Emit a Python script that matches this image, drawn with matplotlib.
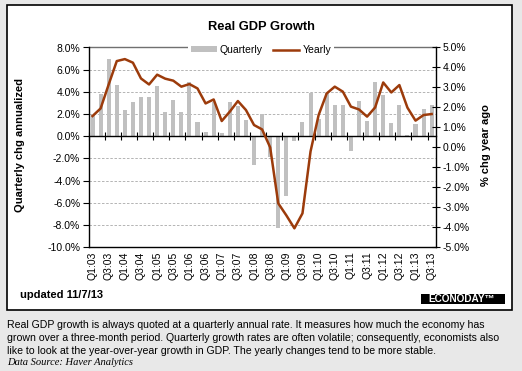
import numpy as np
import matplotlib
matplotlib.use("Agg")
import matplotlib.pyplot as plt
from matplotlib.patches import Rectangle
from matplotlib.ticker import FuncFormatter, FixedLocator

plt.rcParams['font.family'] = ['Liberation Sans', 'DejaVu Sans']
plt.rcParams['axes.unicode_minus'] = False

quarters = []
for yr in range(3, 14):
    for q in range(1, 5):
        quarters.append(f"Q{q}:{yr:02d}")
quarters = quarters[:43]

quarterly = [1.9, 3.8, 7.0, 4.6, 2.4, 3.1, 3.5, 3.5, 4.5, 2.2, 3.3, 2.2,
             4.9, 1.3, 0.4, 3.1, 0.3, 3.1, 2.7, 1.5, -2.6, 2.0, -1.9, -8.3,
             -5.4, -0.4, 1.3, 3.9, 1.6, 3.9, 2.8, 2.8, -1.3, 3.2, 1.4, 4.9,
             3.7, 1.2, 2.8, 0.1, 1.1, 2.5, 2.8]
yearly = [1.57, 1.95, 3.15, 4.32, 4.42, 4.24, 3.45, 3.15, 3.64, 3.44, 3.34,
          3.04, 3.17, 2.95, 2.2, 2.4, 1.32, 1.79, 2.32, 1.87, 1.12, 0.9,
          0.0, -2.8, -3.4, -4.05, -3.3, -0.2, 1.62, 2.7, 3.04, 2.79, 2.04,
          1.9, 1.54, 2.0, 3.25, 2.75, 3.12, 1.99, 1.34, 1.62, 1.67]

title = "Real GDP Growth"
left_label = "Quarterly chg annualized"
right_label = "% chg year ago"
updated = "updated 11/7/13"
para = ["Real GDP growth is always quoted at a quarterly annual rate. It measures how much the economy has",
        "grown over a three-month period. Quarterly growth rates are often volatile; consequently, economists also",
        "like to look at the year-over-year growth in GDP. The yearly changes tend to be more stable."]
source = "Data Source: Haver Analytics"

W, H = 522, 371
BG = '#e8e8e8'
BAR = '#c0c0c0'
LINE = '#9c3b0b'

fig = plt.figure(figsize=(W / 100, H / 100), dpi=100, facecolor=BG)

def fx(px):
    return px / W

def fy(py):
    return 1 - py / H

# white chart panel
panel = Rectangle((fx(6.7), fy(310)), fx(512) - fx(6.7), fy(4.7) - fy(310),
                  transform=fig.transFigure, facecolor='white', edgecolor='black',
                  linewidth=1.2, zorder=-10)
fig.patches.append(panel)

ax = fig.add_axes([fx(88.5), fy(247.3), fx(435.7) - fx(88.5), fy(47.5) - fy(247.3)])
ax.set_zorder(1)
ax.set_facecolor('none')
x = np.arange(len(quarters))
ax.bar(x, quarterly, width=0.5, color=BAR, zorder=2, label='Quarterly')
ax.set_xlim(-0.5, len(quarters) - 0.5)
ax.set_ylim(-10, 8)
ax.set_yticks(np.arange(-10, 8.1, 2))
ax.yaxis.set_major_formatter(FuncFormatter(lambda v, p: f"{v:.1f}%"))
ax.tick_params(axis='y', direction='out', length=4, width=0.8, labelsize=7.5, pad=2)
ax.set_axisbelow(True)
for v in [-8, -6, -4, -2, 2, 4, 6]:
    ax.axhline(v, color='#a8a8a8', lw=0.6, ls=(0, (3, 2)), zorder=1)
ax.axhline(8, color='#707070', lw=1.0, zorder=1, clip_on=False)

# x axis: major ticks on zero line (top spine moved), labels at bottom
ax.spines['top'].set_position(('data', 0))
ax.spines['top'].set_color('black')
ax.spines['top'].set_linewidth(1.0)
ax.spines['top'].set_zorder(3)
ax.xaxis.set_major_locator(FixedLocator(np.arange(-0.5, len(quarters) - 1, 2)))
ax.xaxis.set_minor_locator(FixedLocator(x[::2]))
ax.xaxis.set_minor_formatter(FuncFormatter(lambda v, p: quarters[int(round(v))]))
ax.tick_params(axis='x', which='major', top=True, bottom=False, labeltop=False,
               labelbottom=False, direction='inout', length=6, width=0.8)
ax.tick_params(axis='x', which='minor', top=False, bottom=True, length=0,
               labelbottom=True, labelsize=7.5, labelrotation=90, pad=3)
for s in ['left', 'bottom']:
    ax.spines[s].set_color('black')
    ax.spines[s].set_linewidth(1.0)
ax.spines['right'].set_visible(False)
ax.set_ylabel(left_label, fontsize=8, fontweight='bold')
ax.yaxis.set_label_coords(fx(25), fy(145), transform=fig.transFigure)

ax2 = ax.twinx()
ax2.set_zorder(2)
ax2.set_facecolor('none')
ax2.plot(x, yearly, color=LINE, lw=1.8, zorder=3, label='Yearly')
ax2.set_ylim(-5, 5)
ax2.set_yticks(np.arange(-5, 5.1, 1))
ax2.yaxis.set_major_formatter(FuncFormatter(lambda v, p: f"{v:.1f}%"))
ax2.tick_params(axis='y', direction='inout', length=6, width=0.8, labelsize=7.5, pad=2)
for s in ['left', 'top', 'bottom']:
    ax2.spines[s].set_visible(False)
ax2.spines['right'].set_color('black')
ax2.spines['right'].set_linewidth(1.0)
ax2.set_ylabel(right_label, fontsize=8, fontweight='bold')
ax2.yaxis.set_label_coords(fx(481), fy(145), transform=fig.transFigure)

h1, l1 = ax.get_legend_handles_labels()
h2, l2 = ax2.get_legend_handles_labels()
leg = ax2.legend(h1 + h2, l1 + l2, loc='center', bbox_to_anchor=(fx(261), fy(50)),
                 bbox_transform=fig.transFigure, ncol=2, fontsize=7.5, frameon=True,
                 facecolor='white', edgecolor='none', framealpha=1, fancybox=False,
                 handlelength=2.5, handleheight=0.5, handletextpad=0.3,
                 columnspacing=1.0, borderpad=0.25, borderaxespad=0)
leg.set_zorder(10)

fig.text(fx(261), fy(26.5), title, ha='center', va='center', fontsize=9.3,
         fontweight='bold')
fig.text(fx(20.5), fy(294.5), updated, ha='left', va='center', fontsize=8,
         fontweight='bold')

# logo
fig.patches.append(Rectangle((fx(420.7), fy(304.3)), fx(505) - fx(420.7), fy(294) - fy(304.3),
                             transform=fig.transFigure, facecolor='black', edgecolor='none', zorder=5))
fig.text(fx(462), fy(299.3), "ECONODAY\u2122", ha='center', va='center', fontsize=7.2,
         color='white', fontweight='bold', zorder=6)

for i, line in enumerate(para):
    fig.text(fx(7), fy(324.5 + 13.2 * i), line, ha='left', va='center', fontsize=7.55)
fig.text(fx(7), fy(362.5), source, ha='left', va='center', fontsize=7.6,
         style='italic', family=['Liberation Serif', 'DejaVu Serif'])

fig.savefig('out.png', dpi=100, facecolor=BG)
